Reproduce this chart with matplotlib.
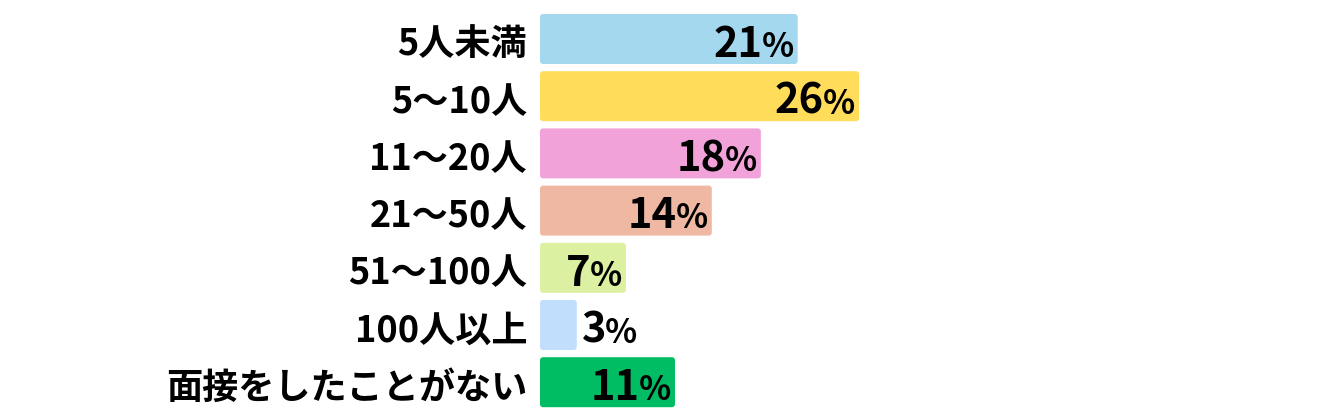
import matplotlib
matplotlib.use("Agg")
import matplotlib.pyplot as plt
from matplotlib.patches import FancyBboxPatch
from matplotlib.transforms import offset_copy

plt.rcParams['font.family'] = ['Noto Sans CJK JP', 'DejaVu Sans']

categories = ['5人未満', '5〜10人', '11〜20人', '21〜50人', '51〜100人', '100人以上', '面接をしたことがない']
values = [21, 26, 18, 14, 7, 3, 11]
colors = ['#A3D8EE', '#FFDC5A', '#F0A2D9', '#EFB8A3', '#DBF0A0', '#C2DEFD', '#00BD63']

W, H, DPI = 1319, 420, 100
fig = plt.figure(figsize=(W / DPI, H / DPI), dpi=DPI)
x0 = 540
ax = fig.add_axes([x0 / W, 0, 1 - x0 / W, 1])
px_per_pct = 12.27
row = 57.2
ax.set_xlim(0, (W - x0) / px_per_pct)
ax.set_ylim((H - 39) / row, -39 / row)
ax.axis('off')

bar_h = 50 / row
bars = ax.barh(range(len(values)), values, height=bar_h, color=colors)
aspect = px_per_pct / row
for b, c in zip(bars, colors):
    p = FancyBboxPatch((b.get_x(), b.get_y()), b.get_width(), b.get_height(),
                       boxstyle='round,pad=0,rounding_size=0.25',
                       mutation_aspect=aspect, facecolor=c, edgecolor='none')
    ax.add_patch(p)
    b.remove()

renderer = fig.canvas.get_renderer()
for i, (cat, v) in enumerate(zip(categories, values)):
    ax.text(0, i, cat, ha='right', va='center_baseline', fontsize=26, fontweight='bold',
            transform=offset_copy(ax.transData, fig, x=-13, y=-2, units='dots'))
    yb = i + 0.31
    if v >= 5:
        pct = ax.text(v, yb, '%', ha='right', va='baseline', fontsize=24, fontweight='bold',
                      transform=offset_copy(ax.transData, fig, x=-4, y=0, units='dots'))
        ext = pct.get_window_extent(renderer)
        xd = ax.transData.inverted().transform((ext.x0, 0))[0]
        ax.text(xd, yb, str(v), ha='right', va='baseline', fontsize=30, fontweight='bold',
                transform=offset_copy(ax.transData, fig, x=1, y=0, units='dots'))
    else:
        num = ax.text(v, yb, str(v), ha='left', va='baseline', fontsize=30, fontweight='bold',
                      transform=offset_copy(ax.transData, fig, x=5, y=0, units='dots'))
        ext = num.get_window_extent(renderer)
        xd = ax.transData.inverted().transform((ext.x1, 0))[0]
        ax.text(xd, yb, '%', ha='left', va='baseline', fontsize=24, fontweight='bold',
                transform=offset_copy(ax.transData, fig, x=-1, y=0, units='dots'))

fig.savefig('out.png', dpi=DPI)
